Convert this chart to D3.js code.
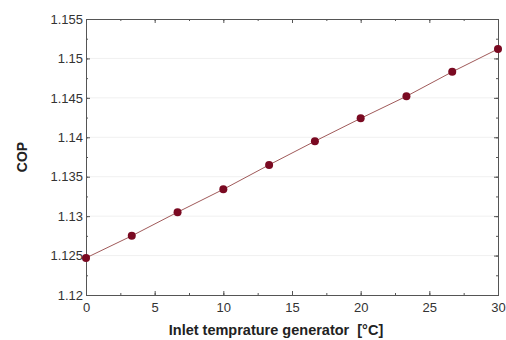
<!DOCTYPE html>
<html>
<head>
<meta charset="utf-8">
<script src="https://d3js.org/d3.v7.min.js"></script>
<style>
body { margin: 0; background: #fff; }
text { font-family: "Liberation Sans", Arial, sans-serif; }
</style>
</head>
<body>
<div id="chart"></div>
<script>
// data
var temps = [0, 3.333, 6.667, 10, 13.333, 16.667, 20, 23.333, 26.667, 30];
var cop = [1.1247, 1.1275, 1.1305, 1.1334, 1.1365, 1.1395, 1.1424, 1.1452, 1.1483, 1.1512];
var xTicks = [0, 5, 10, 15, 20, 25, 30];
var yTicks = [1.12, 1.125, 1.13, 1.135, 1.14, 1.145, 1.15, 1.155];

var W = 506, H = 340;
var m = {top: 19, right: 8, bottom: 45, left: 86};

var svg = d3.select("#chart").append("svg")
	.attr("width", W)
	.attr("height", H);

var x = d3.scaleLinear().domain([0, 30]).range([m.left, W - m.right]);
var y = d3.scaleLinear().domain([1.12, 1.155]).range([H - m.bottom, m.top]);

//faint grid
svg.append("g").selectAll("line")
	.data(yTicks.slice(1, -1))
	.join("line")
	.attr("x1", m.left).attr("x2", W - m.right)
	.attr("y1", d => y(d)).attr("y2", d => y(d))
	.attr("stroke", "#f0f0f0");

//minor tick values
var xMinor = d3.range(0, 30.01, 2.5);
var yMinor = d3.range(0, 15).map(i => 1.12 + i * 0.0025);

//axes with inward ticks
svg.append("g")
	.attr("transform", "translate(0," + (H - m.bottom) + ")")
	.call(d3.axisBottom(x).tickValues(xTicks).tickSize(-4).tickPadding(8).tickFormat(d3.format("d")));
svg.append("g")
	.attr("transform", "translate(" + m.left + ",0)")
	.call(d3.axisLeft(y).tickValues(yTicks).tickSize(-4).tickPadding(3).tickFormat(d => +d.toFixed(3)));
svg.append("g")
	.attr("transform", "translate(0," + m.top + ")")
	.call(d3.axisTop(x).tickValues(xTicks).tickSize(-4).tickFormat(""));
svg.append("g")
	.attr("transform", "translate(" + (W - m.right) + ",0)")
	.call(d3.axisRight(y).tickValues(yTicks).tickSize(-4).tickFormat(""));

//minor ticks
svg.append("g").attr("transform", "translate(0," + (H - m.bottom) + ")")
	.call(d3.axisBottom(x).tickValues(xMinor).tickSize(-2).tickFormat(""));
svg.append("g").attr("transform", "translate(0," + m.top + ")")
	.call(d3.axisTop(x).tickValues(xMinor).tickSize(-2).tickFormat(""));
svg.append("g").attr("transform", "translate(" + m.left + ",0)")
	.call(d3.axisLeft(y).tickValues(yMinor).tickSize(-2).tickFormat(""));
svg.append("g").attr("transform", "translate(" + (W - m.right) + ",0)")
	.call(d3.axisRight(y).tickValues(yMinor).tickSize(-2).tickFormat(""));

svg.selectAll(".domain, .tick line").attr("stroke", "#555");
svg.selectAll(".tick text")
	.attr("font-size", 13)
	.attr("fill", "#333")
	.attr("font-family", "'Liberation Sans', Arial, sans-serif");

//line
svg.append("path")
	.datum(temps.map((t, i) => [t, cop[i]]))
	.attr("fill", "none")
	.attr("stroke", "#a05a5a")
	.attr("stroke-width", 1)
	.attr("d", d3.line().x(d => x(d[0])).y(d => y(d[1])));

//markers
svg.append("g").selectAll("circle")
	.data(temps)
	.join("circle")
	.attr("cx", d => x(d))
	.attr("cy", (d, i) => y(cop[i]))
	.attr("r", 4)
	.attr("fill", "#7a0a22");

//axis labels
svg.append("text")
	.attr("x", (m.left + W - m.right) / 2 - 16)
	.attr("y", 335)
	.attr("text-anchor", "middle")
	.attr("font-size", 14.5)
	.attr("font-weight", "bold")
	.attr("fill", "#222")
	.style("white-space", "pre")
	.text("Inlet temprature generator  [°C]");

svg.append("text")
	.attr("transform", "translate(27," + ((m.top + H - m.bottom) / 2) + ") rotate(-90)")
	.attr("text-anchor", "middle")
	.attr("font-size", 14)
	.attr("font-weight", "bold")
	.attr("fill", "#222")
	.text("COP");
</script>
</body>
</html>
